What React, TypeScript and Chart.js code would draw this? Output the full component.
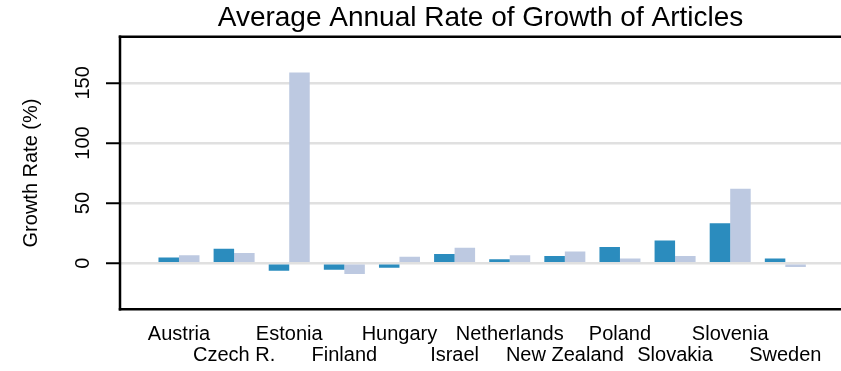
import React, { useEffect, useRef } from "react";
import { Chart, registerables } from "chart.js";

Chart.register(...registerables);

const titleText = "Average Annual Rate of Growth of Articles";
const yAxisTitle = "Growth Rate (%)";
const categories = [
  "Austria",
  "Czech R.",
  "Estonia",
  "Finland",
  "Hungary",
  "Israel",
  "Netherlands",
  "New Zealand",
  "Poland",
  "Slovakia",
  "Slovenia",
  "Sweden",
];
const seriesDark = [4.6, 12.0, -6.3, -5.5, -3.8, 7.6, 3.2, 5.9, 13.4, 18.8, 33.2, 3.9];
const seriesLight = [6.5, 8.4, 158.6, -9.1, 5.3, 12.8, 6.6, 9.7, 3.9, 5.9, 62.0, -3.2];
const yTicks = [0, 50, 100, 150];

const FONT = "'Liberation Sans', Arial, Helvetica, sans-serif";

// Plot frame: left, top and bottom sides only (the right side lies beyond the picture).
const boxPlugin = {
  id: "plotBox",
  afterDraw(chart: any) {
    const { ctx, chartArea } = chart;
    const { left, top, right, bottom } = chartArea;
    ctx.save();
    ctx.strokeStyle = "#000";
    ctx.lineWidth = 2.5;
    ctx.lineCap = "square";
    ctx.beginPath();
    ctx.moveTo(left, top);
    ctx.lineTo(right, top);
    ctx.stroke();
    ctx.beginPath();
    ctx.moveTo(left, bottom);
    ctx.lineTo(right, bottom);
    ctx.stroke();
    ctx.beginPath();
    ctx.moveTo(left, top);
    ctx.lineTo(left, bottom);
    ctx.stroke();
    ctx.restore();
  },
};

export default function App() {
  const ref = useRef<HTMLCanvasElement | null>(null);

  useEffect(() => {
    if (!ref.current) return;
    const positions = categories.map((_, i) => i + 1);
    const chart = new Chart(ref.current, {
      type: "bar",
      data: {
        datasets: [
          {
            data: positions.map((x, i) => ({ x, y: seriesDark[i] })),
            backgroundColor: "#2b8cbe",
            borderWidth: 0,
            barPercentage: 1,
            categoryPercentage: 0.744,
          },
          {
            data: positions.map((x, i) => ({ x, y: seriesLight[i] })),
            backgroundColor: "#bdc9e1",
            borderWidth: 0,
            barPercentage: 1,
            categoryPercentage: 0.744,
          },
        ],
      },
      options: {
        responsive: false,
        animation: false,
        devicePixelRatio: 1,
        layout: { padding: 0 },
        plugins: {
          legend: { display: false },
          tooltip: { enabled: false },
          title: {
            display: true,
            text: titleText,
            fullSize: false,
            color: "#000",
            font: { family: FONT, size: 28, weight: "normal", lineHeight: 1.2 },
            padding: { top: 1, bottom: 2.1 },
          },
        },
        scales: {
          x: {
            type: "linear",
            offset: false,
            bounds: "data",
            min: -0.07,
            max: 13.01,
            grid: { display: false, offset: false },
            border: { display: false },
            afterBuildTicks: (scale: any) => {
              scale.ticks = positions.map((v) => ({ value: v }));
            },
            afterFit: (scale: any) => {
              scale.height = 61.7;
              scale.paddingLeft = 0;
              scale.paddingRight = 0;
            },
            ticks: {
              autoSkip: false,
              maxRotation: 0,
              minRotation: 0,
              padding: 7,
              color: "#000",
              font: { family: FONT, size: 20, lineHeight: 1.05 },
              callback: (value: any) => {
                const i = Math.round(Number(value)) - 1;
                const name = categories[i] ?? "";
                return i % 2 === 0 ? [name, ""] : ["", name];
              },
            },
          },
          y: {
            type: "linear",
            min: -38.4,
            max: 188.4,
            afterBuildTicks: (scale: any) => {
              scale.ticks = yTicks.map((v) => ({ value: v }));
            },
            afterFit: (scale: any) => {
              scale.width = 120;
            },
            grid: {
              color: "#e0e0e0",
              lineWidth: 2.5,
              drawTicks: true,
              tickLength: 14,
              tickColor: "#000",
              tickWidth: 2,
            },
            border: { display: false },
            ticks: {
              minRotation: 90,
              maxRotation: 90,
              crossAlign: "center",
              padding: 6,
              color: "#000",
              font: { family: FONT, size: 20 },
              callback: (value: any) => String(value),
            },
            title: {
              display: true,
              text: yAxisTitle,
              color: "#000",
              font: { family: FONT, size: 20, lineHeight: 1.2 },
              padding: { top: 19.7, bottom: 0 },
            },
          },
        },
      },
      plugins: [boxPlugin],
    } as any);
    return () => chart.destroy();
  }, []);

  return (
    <div
      style={{
        position: "absolute",
        left: 0,
        top: 0,
        width: 841,
        height: 371,
        overflow: "hidden",
        background: "#fff",
      }}
    >
      <canvas ref={ref} width={841} height={371} style={{ display: "block" }} />
    </div>
  );
}
